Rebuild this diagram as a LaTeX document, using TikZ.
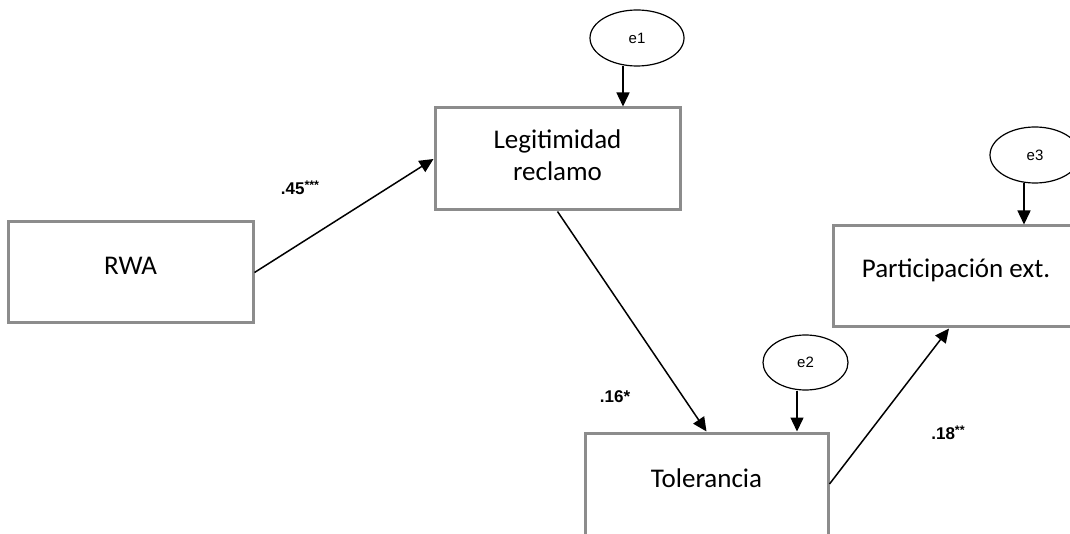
\documentclass[tikz,border=0pt]{standalone}
\usepackage{fontspec}
\setmainfont{Carlito}
\newfontfamily\arialfont{Liberation Sans}
\usetikzlibrary{arrows.meta,calc,shapes.geometric}
\definecolor{boxgray}{HTML}{8C8C8C}
\newcommand{\up}[2][6pt]{\raisebox{#1}[\height][\depth]{#2}}
\newcommand{\sstars}[1]{\raisebox{5pt}{\fontsize{12.5}{12.5}\selectfont #1}}
\begin{document}
\begin{tikzpicture}[x=1pt,y=-1pt,
  box/.style={draw=boxgray, line width=3pt, fill=white, inner sep=0pt, align=center,
    font=\fontsize{27}{32}\selectfont},
  err/.style={draw, ellipse, line width=1.2pt, inner sep=0pt, fill=white,
    font=\arialfont\fontsize{15}{17}\selectfont},
  pathar/.style={line width=1.5pt, -{Triangle[length=14pt,width=13pt]}},
  coef/.style={inner sep=0pt, font=\arialfont\bfseries\fontsize{17}{19}\selectfont}]
\useasboundingbox (0,0) rectangle (1070,534);
\fill[white] (0,0) rectangle (1070,534);
\clip (0,0) rectangle (1070,534);

\node[box, minimum width=245pt, minimum height=101pt] (rwa) at (130.5,272.5) {\up[7pt]{RWA}};
\node[box, minimum width=245pt, minimum height=102pt] (legit) at (557.5,159) {\up[4pt]{Legitimidad}\\\up[4pt]{reclamo}};
\node[box, minimum width=246pt, minimum height=101pt] (part) at (956,276.5) {\up{Participación ext.}};
\node[box, minimum width=243pt, minimum height=102pt] (tol) at (706.5,484) {\up{Tolerancia}};

\node[err, minimum width=94pt, minimum height=56pt] (e1) at (637,38) {e1};
\node[err, minimum width=85pt, minimum height=55pt] (e2) at (805.5,362.5) {e2};
\node[err, minimum width=90pt, minimum height=56pt] (e3) at (1035,155) {e3};

\draw[pathar] (rwa.east) -- (legit.west);
\draw[pathar] (legit.south) -- (tol.north);
\draw[pathar] (tol.east) -- ($(part.south)+(-7,0)$);
\draw[pathar] ($(e1.south)+(-14,-1)$) -- ($(e1.south |- legit.north)+(-14,0)$);
\draw[pathar] ($(e2.south)+(-8.5,0)$) -- ($(e2.south |- tol.north)+(-8.5,0)$);
\draw[pathar] ($(e3.south)+(-11,-1)$) -- ($(e3.south |- part.north)+(-11,0)$);

\node[coef] (c1) at (300,188) {.45\sstars{***}};
\node[coef] (c2) at (615,397) {.16*};
\node[coef] (c3) at (948,433) {.18\sstars{**}};
\end{tikzpicture}
\end{document}
